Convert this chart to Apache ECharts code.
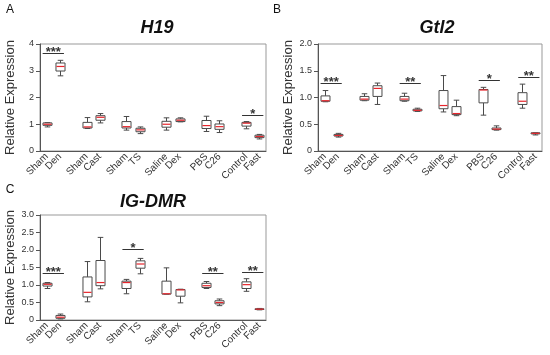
<!DOCTYPE html>
<html>
<head>
<meta charset="utf-8">
<script src="https://cdn.jsdelivr.net/npm/echarts@6/dist/echarts.min.js"></script>
<style>
html,body{margin:0;padding:0;background:#fff;}
#chart{width:550px;height:355px;}
</style>
</head>
<body>
<div id="chart"></div>
<script>
// Group labels (pairs)
const groupLabels = ['Sham','Den','Sham','Cast','Sham','TS','Saline','Dex','PBS','C26','Control','Fast'];

// Box values: [min, Q1, median, Q3, max]
const h19 = [
  [0.90, 0.96, 1.00, 1.05, 1.06],
  [2.81, 2.99, 3.16, 3.29, 3.39],
  [0.84, 0.86, 0.90, 1.07, 1.25],
  [1.05, 1.15, 1.26, 1.32, 1.40],
  [0.78, 0.86, 0.91, 1.10, 1.29],
  [0.65, 0.72, 0.79, 0.85, 0.90],
  [0.78, 0.89, 1.00, 1.11, 1.24],
  [1.09, 1.10, 1.15, 1.20, 1.24],
  [0.73, 0.84, 0.95, 1.14, 1.30],
  [0.69, 0.81, 0.91, 1.01, 1.13],
  [0.83, 0.93, 1.04, 1.07, 1.10],
  [0.45, 0.50, 0.54, 0.59, 0.62]
];
const gtl2 = [
  [0.92, 0.93, 0.94, 1.03, 1.13],
  [0.26, 0.28, 0.29, 0.31, 0.33],
  [0.94, 0.95, 0.97, 1.02, 1.07],
  [0.87, 1.02, 1.17, 1.22, 1.27],
  [0.93, 0.94, 0.97, 1.02, 1.08],
  [0.74, 0.75, 0.76, 0.78, 0.80],
  [0.73, 0.79, 0.85, 1.13, 1.41],
  [0.66, 0.68, 0.70, 0.83, 0.95],
  [0.67, 0.90, 1.14, 1.15, 1.19],
  [0.39, 0.40, 0.41, 0.43, 0.47],
  [0.80, 0.87, 0.93, 1.09, 1.25],
  [0.30, 0.32, 0.33, 0.34, 0.34]
];
const igdmr = [
  [0.90, 0.97, 1.02, 1.05, 1.07],
  [0.03, 0.05, 0.08, 0.13, 0.17],
  [0.52, 0.66, 0.79, 1.23, 1.67],
  [0.89, 0.98, 1.07, 1.70, 2.36],
  [0.75, 0.90, 1.07, 1.11, 1.16],
  [1.32, 1.48, 1.60, 1.69, 1.76],
  [0.74, 0.74, 0.75, 1.11, 1.49],
  [0.49, 0.68, 0.86, 0.87, 0.88],
  [0.90, 0.93, 0.98, 1.05, 1.10],
  [0.41, 0.46, 0.50, 0.55, 0.60],
  [0.82, 0.90, 1.01, 1.09, 1.18],
  [0.29, 0.30, 0.31, 0.32, 0.33]
];

// Significance brackets: [first group, second group, height, stars]
const sigH19 = [[0, 1, 3.65, '***'], [10, 11, 1.36, '*']];
const sigGtl2 = [[0, 1, 1.27, '***'], [4, 5, 1.28, '**'], [8, 9, 1.33, '*'], [10, 11, 1.39, '**']];
const sigIgdmr = [[0, 1, 1.34, '***'], [4, 5, 2.04, '*'], [8, 9, 1.34, '**'], [10, 11, 1.38, '**']];

// Axis settings
const titles = ['H19', 'Gtl2', 'IG-DMR'];
const yMax = [4, 2, 3];
const yStep = [1, 0.5, 0.5];

// slot index on category axis (empty slot between pairs)
const slotOf = i => Math.floor(i / 2) * 3 + (i % 2);
const xCats = [];
groupLabels.forEach((l, i) => {
  xCats.push(l);
  if (i % 2 === 1 && i < groupLabels.length - 1) xCats.push('');
});

const grids = [
  {left: 40, top: 44, width: 226, height: 107},
  {left: 318, top: 44, width: 224, height: 107},
  {left: 40, top: 215, width: 226, height: 105}
];

const FONT = '"Liberation Sans", Arial, sans-serif';
const boxColor = '#4a4a4a';
const medColor = '#e8262d';

function boxItem(params, api) {
  const x = api.value(0);
  const pMin = api.coord([x, api.value(1)]);
  const pQ1 = api.coord([x, api.value(2)]);
  const pMed = api.coord([x, api.value(3)]);
  const pQ3 = api.coord([x, api.value(4)]);
  const pMax = api.coord([x, api.value(5)]);
  const slot = api.size([1, 0])[0];
  const bw = slot * 0.68, cw = slot * 0.42;
  const cx = Math.round(pMin[0]) + 0.5;
  const st = {stroke: boxColor, lineWidth: 1, fill: null};
  return {
    type: 'group',
    children: [
      {type: 'line', shape: {x1: cx, y1: pQ3[1], x2: cx, y2: pMax[1]}, style: st},
      {type: 'line', shape: {x1: cx - cw / 2, y1: pMax[1], x2: cx + cw / 2, y2: pMax[1]}, style: st},
      {type: 'line', shape: {x1: cx, y1: pQ1[1], x2: cx, y2: pMin[1]}, style: st},
      {type: 'line', shape: {x1: cx - cw / 2, y1: pMin[1], x2: cx + cw / 2, y2: pMin[1]}, style: st},
      {type: 'rect', shape: {x: cx - bw / 2, y: pQ3[1], width: bw, height: pQ1[1] - pQ3[1]},
        style: {stroke: boxColor, lineWidth: 1, fill: '#fff'}},
      {type: 'line', shape: {x1: cx - bw / 2 + 0.5, y1: pMed[1], x2: cx + bw / 2 - 0.5, y2: pMed[1]},
        style: {stroke: medColor, lineWidth: 1.2}}
    ]
  };
}

function sigRender(sigs) {
  return function (params, api) {
    const s = sigs[params.dataIndex];
    const p1 = api.coord([api.value(0), api.value(2)]);
    const p2 = api.coord([api.value(1), api.value(2)]);
    const y = Math.round(p1[1]) + 0.5;
    return {
      type: 'group',
      children: [
        {type: 'line', shape: {x1: p1[0] - 4, y1: y, x2: p2[0] + 4, y2: y},
          style: {stroke: '#333', lineWidth: 1}},
        {type: 'text', x: (p1[0] + p2[0]) / 2, y: y - 1,
          style: {text: s[3], fill: '#333', font: 'bold 13px ' + FONT, align: 'center', verticalAlign: 'middle'}}
      ]
    };
  };
}

const datasets = [h19, gtl2, igdmr];
const sigs = [sigH19, sigGtl2, sigIgdmr];

const xAxes = grids.map((g, k) => ({
  type: 'category', gridIndex: k, data: xCats,
  axisLine: {lineStyle: {color: '#555'}},
  axisTick: {alignWithLabel: true, length: 3, lineStyle: {color: '#555'},
    interval: (idx, val) => val !== ''},
  axisLabel: {interval: 0, rotate: 45, fontSize: 10, color: '#333', margin: 4, fontFamily: FONT},
  splitLine: {show: false}
}));
const yAxes = grids.map((g, k) => ({
  type: 'value', gridIndex: k, min: 0, max: yMax[k], interval: yStep[k],
  name: 'Relative Expression', nameLocation: 'middle', nameGap: 23,
  nameTextStyle: {fontSize: 13, color: '#333', fontFamily: FONT},
  axisLine: {show: true, lineStyle: {color: '#555'}},
  axisTick: {show: true, length: 4, lineStyle: {color: '#555'}},
  axisLabel: {fontSize: 9, color: '#333', margin: 6, fontFamily: FONT,
    formatter: v => (yStep[k] < 1 ? (v === 0 ? '0' : v.toFixed(1)) : String(v))},
  splitLine: {show: false}
}));

const series = [];
datasets.forEach((d, k) => {
  series.push({
    type: 'custom', xAxisIndex: k, yAxisIndex: k,
    renderItem: boxItem,
    encode: {x: 0, y: [1, 2, 3, 4, 5]},
    data: d.map((v, i) => [slotOf(i)].concat(v)),
    z: 3
  });
  series.push({
    type: 'custom', xAxisIndex: k, yAxisIndex: k,
    renderItem: sigRender(sigs[k]),
    encode: {x: [0, 1], y: 2},
    data: sigs[k].map(s => [slotOf(s[0]), slotOf(s[1]), s[2]]),
    z: 4
  });
});

const titlePos = [[157, 28], [437, 28], [153, 202]];
const letters = [['A', 10, 10], ['B', 277, 10], ['C', 10, 190]];
const graphics = [];
titles.forEach((t, k) => graphics.push({
  type: 'text', x: titlePos[k][0], y: titlePos[k][1],
  style: {text: t, font: 'italic bold 18px ' + FONT, fill: '#111', align: 'center', verticalAlign: 'middle'}
}));
letters.forEach(l => graphics.push({
  type: 'text', x: l[1], y: l[2],
  style: {text: l[0], font: '12px ' + FONT, fill: '#111', align: 'center', verticalAlign: 'middle'}
}));

const chart = echarts.init(document.getElementById('chart'), null, {renderer: 'canvas'});
chart.setOption({
  animation: false,
  backgroundColor: '#fff',
  grid: grids.map(g => Object.assign({show: true, borderColor: '#999', borderWidth: 1, containLabel: false}, g)),
  xAxis: xAxes,
  yAxis: yAxes,
  series: series,
  graphic: graphics
});
</script>
</body>
</html>
